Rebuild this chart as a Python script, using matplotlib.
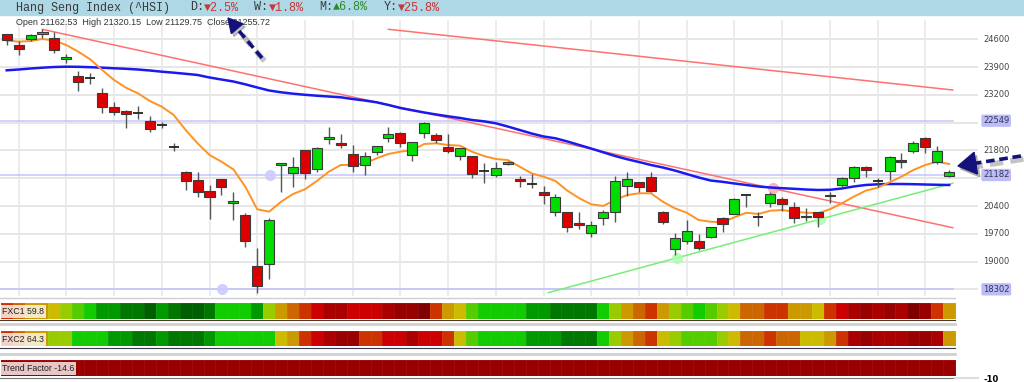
import numpy as np
import matplotlib
matplotlib.use("Agg")
import matplotlib.pyplot as plt
from matplotlib.colors import ListedColormap, BoundaryNorm
from matplotlib.patches import Rectangle, Polygon
from matplotlib.transforms import blended_transform_factory

W, H = 1024, 382

# ---------------- data ----------------
opens = [24726, 24456, 24615, 24726, 24625, 24111, 23676, 23620, 23255, 22887,
         22801, 22752, 22542, 22442, 21896, 21265, 21056, 20786, 21073, 20469,
         20174, 18889, 18932, 21426, 21225, 21811, 21325, 22089, 21980, 21718,
         21426, 21754, 22106, 22247, 21686, 22232, 22189, 21887, 21668, 21660,
         21283, 21182, 21459, 21081, 20948, 20746, 20242, 20242, 19965, 19713,
         20106, 20242, 20912, 20998, 21131, 20242, 19310, 19519, 19519, 19612,
         20091, 20199, 20678, 20131, 20484, 20577, 20383, 20120, 20242, 20645,
         20930, 21099, 21391, 21032, 21283, 21552, 21786, 22106, 21517, 21162.53]
highs = [24740, 24565, 24733, 24852, 24791, 24222, 23809, 23744, 23366, 23028,
         22810, 22920, 22676, 22524, 21995, 21290, 21265, 20930, 21088, 20746,
         20217, 19350, 20091, 21480, 21643, 21815, 21895, 22398, 22215, 21930,
         21769, 21918, 22383, 22255, 22010, 22524, 22232, 22215, 21860, 21665,
         21491, 21517, 21542, 21164, 21199, 20912, 20703, 20250, 20242, 20031,
         20300, 21164, 21265, 21005, 21265, 20283, 19713, 20048, 19696, 19870,
         20131, 20590, 20703, 20257, 20761, 20635, 20509, 20343, 20250, 20761,
         21139, 21400, 21400, 21114, 21668, 21728, 22046, 22131, 21920, 21320.15]
lows = [24456, 24212, 24565, 24625, 24247, 23995, 23305, 23474, 22751, 22693,
        22373, 22585, 22272, 22373, 21794, 20804, 20620, 20066, 20678, 20048,
        19376, 18217, 18554, 20761, 20887, 21073, 21250, 21955, 21869, 21250,
        21182, 21693, 22006, 21895, 21534, 22106, 21980, 21743, 21560, 21114,
        20973, 21124, 21434, 20872, 20847, 20444, 20149, 19753, 19821, 19628,
        19922, 20005, 20653, 20746, 20746, 19940, 19166, 19444, 19292, 19587,
        19738, 20190, 20368, 19904, 20383, 20283, 19965, 20031, 19864, 20469,
        20887, 20998, 21139, 20887, 21056, 21366, 21728, 21728, 21459, 21129.75]
closes = [24582, 24356, 24708, 24776, 24330, 24162, 23532, 23618, 22902, 22761,
          22711, 22750, 22340, 22440, 21894, 21038, 20761, 20620, 20887, 20527,
          19519, 18393, 20048, 21476, 21391, 21225, 21869, 22147, 21930, 21408,
          21660, 21912, 22215, 21995, 22006, 22484, 22063, 21794, 21854, 21199,
          21281, 21350, 21509, 21023, 20946, 20678, 20620, 19864, 19922, 19922,
          20242, 21038, 21073, 20872, 20786, 19990, 19602, 19779, 19350, 19864,
          19948, 20577, 20676, 20129, 20703, 20459, 20106, 20140, 20116, 20670,
          21099, 21391, 21308, 21030, 21628, 21517, 21980, 21880, 21786, 21255.72]

ma_fast = [24570, 24540, 24557, 24608, 24565, 24456, 24288, 24096, 23827, 23575,
           23381, 23240, 23046, 22902, 22693, 22315, 21980, 21686, 21517, 21325,
           20887, 20318, 20257, 20509, 20703, 20822, 21031, 21265, 21434, 21434,
           21476, 21602, 21711, 21769, 21811, 21963, 21980, 21937, 21920, 21769,
           21660, 21585, 21559, 21391, 21225, 21139, 21031, 20786, 20595, 20443,
           20401, 20552, 20678, 20721, 20721, 20509, 20343, 20232, 20048, 20005,
           19990, 20116, 20232, 20199, 20282, 20300, 20257, 20232, 20217, 20318,
           20469, 20635, 20786, 20862, 20998, 21139, 21308, 21434, 21517, 21459]
ma_slow = [23819, 23839, 23864, 23885, 23902, 23910, 23907, 23897, 23885, 23870,
           23857, 23839, 23814, 23784, 23759, 23731, 23701, 23638, 23587, 23537,
           23466, 23386, 23310, 23265, 23230, 23202, 23179, 23159, 23139, 23096,
           23058, 23013, 22945, 22869, 22812, 22756, 22706, 22660, 22618, 22567,
           22534, 22484, 22403, 22315, 22227, 22152, 22106, 22026, 21937, 21847,
           21754, 21660, 21580, 21509, 21434, 21371, 21295, 21207, 21119, 21043,
           21010, 20968, 20930, 20892, 20867, 20849, 20834, 20816, 20804, 20809,
           20842, 20892, 20930, 20947, 20955, 20955, 20950, 20942, 20935, 20930]

# trend lines: (x0, x1), (y0, y1) in bar index / price
red_line_a = ([3, 79.3], [24850, 19854])
red_line_b = ([32, 79.3], [24852, 23323])
green_line = ([45.4, 79.3], [18217, 20973])
level_lines = [22549, 21182, 18302]
level_dots = [(22.1, 21182), (18.05, 18302)]
green_dots = [(56.2, 19083), (68.2, 20068)]
pink_dots = [(64.2, 20856)]

axis_ticks = [24600, 23900, 23200, 21800, 20400, 19700, 19000]
grid_levels = [24600, 23900, 23200, 22500, 21800, 21100, 20400, 19700, 19000, 18300]

# FXC heat strips: colour level per bar (0 = deep red ... 13 = deep green)
strip_colors = ['#800000', '#990000', '#aa0000', '#cc0000', '#cc3300', '#cc6600', '#cc9900',
                '#ccbb00', '#99cc00', '#55cc00', '#11cc00', '#009900', '#007700', '#005f00']
fxc1 = [4, 5, 6, 6, 7, 8, 9, 10, 11, 11, 12, 12, 13, 11, 12, 13, 13, 12, 10, 10,
        10, 11, 8, 6, 5, 4, 3, 2, 2, 3, 3, 3, 2, 1, 1, 0, 4, 6, 7, 9,
        10, 10, 10, 10, 11, 11, 12, 12, 12, 12, 10, 8, 6, 5, 4, 6, 8, 9, 10, 9,
        8, 7, 5, 5, 4, 4, 6, 6, 7, 4, 3, 2, 1, 2, 1, 2, 0, 1, 4, 6]
fxc2 = [4, 5, 6, 6, 8, 8, 10, 10, 10, 11, 11, 12, 12, 11, 12, 12, 12, 11, 10, 10,
        10, 10, 10, 7, 6, 4, 3, 2, 1, 1, 4, 4, 3, 3, 2, 3, 3, 4, 7, 9,
        10, 10, 10, 10, 11, 11, 11, 12, 12, 12, 10, 8, 6, 5, 4, 7, 8, 9, 9, 9,
        8, 7, 5, 5, 4, 5, 5, 7, 7, 6, 4, 2, 1, 2, 2, 2, 1, 1, 2, 6]
trend_factor = [1] * 80

labels = {"fxc1": "FXC1 59.8", "fxc2": "FXC2 64.3", "tf": "Trend Factor -14.6"}
info = "Open 21162.53  High 21320.15  Low 21129.75  Close 21255.72"

# ---------------- layout helpers ----------------
def px_rect(x0, y0, x1, y1):
    return [x0 / W, 1 - y1 / H, (x1 - x0) / W, (y1 - y0) / H]

X_LEFT = -6.7 / 11.93
X_RIGHT = (978 - 6.7) / 11.93

fig = plt.figure(figsize=(W / 100, H / 100), dpi=100)
fig.patch.set_facecolor('white')

# ---------------- main price panel ----------------
ax = fig.add_axes(px_rect(0, 20, 978, 296))
ax.set_xlim(X_LEFT, X_RIGHT)
ax.set_ylim(24600 - (296 - 39.3) * 25.19, 24600 + (39.3 - 20) * 25.19)
ax.axis('off')

for g in grid_levels:
    ax.axhline(g, color='#e6e6e6', lw=1.4, zorder=0)
for gx in range(1, 80, 4):
    ax.axvline(gx, color='#e8e8e8', lw=1.2, zorder=0)

xe = [X_LEFT, 79.3]
for lv in level_lines:
    ax.plot(xe, [lv, lv], color='#b4b4ff', lw=1.2, alpha=0.7, zorder=1)
for dx, dy in level_dots:
    ax.plot(dx, dy, 'o', ms=7, color='#ccccff', alpha=0.9, zorder=1)

ax.plot(*red_line_a, color='#ff7070', lw=1.1, zorder=2)
ax.plot(*red_line_b, color='#ff7070', lw=1.1, zorder=2)
ax.plot(*green_line, color='#77ee77', lw=1.1, zorder=2)
for dx, dy in green_dots:
    ax.plot(dx, dy, 'o', ms=7, color='#aaffaa', alpha=0.8, zorder=2)
for dx, dy in pink_dots:
    ax.plot(dx, dy, 'o', ms=7, color='#ffb0b0', alpha=0.9, zorder=2)

idx = np.arange(len(closes))
ax.plot(idx, ma_slow, color='#1a1aee', lw=1.8, zorder=3)
ax.plot(idx, ma_fast, color='#ff9222', lw=1.4, zorder=3)

o = np.array(opens); c = np.array(closes)
ax.vlines(idx, lows, highs, color='#555555', lw=1.0, zorder=4)
doji = np.abs(c - o) < 6
up = (c >= o) & ~doji
dn = (c < o) & ~doji
ax.bar(idx[up], (c - o)[up], bottom=o[up], width=0.84, color='#00dd00',
       edgecolor='#3a3a3a', lw=0.8, zorder=5)
ax.bar(idx[dn], (o - c)[dn], bottom=c[dn], width=0.84, color='#dd0000',
       edgecolor='#3a3a3a', lw=0.8, zorder=5)
ax.hlines(o[doji], idx[doji] - 0.42, idx[doji] + 0.42, color='#222222', lw=1.3, zorder=5)

# ---------------- heat strips ----------------
cmap = ListedColormap(strip_colors)
norm = BoundaryNorm(np.arange(-0.5, len(strip_colors)), cmap.N)
edges = np.arange(len(fxc1) + 1) - 0.5
for vals, (y0, y1), key in [(fxc1, (303, 318.5), "fxc1"),
                            (fxc2, (331, 346), "fxc2"),
                            (trend_factor, (360, 375.5), "tf")]:
    sax = fig.add_axes(px_rect(0, y0, 978, y1))
    sax.set_xlim(X_LEFT, X_RIGHT)
    sax.set_ylim(0, 1)
    sax.axis('off')
    sax.pcolormesh(edges, [0, 1], np.array([vals]), cmap=cmap, norm=norm,
                   edgecolor=(1, 1, 1, 0.06), lw=0.5)
    sax.text(-0.4, 0.45, labels[key], fontsize=6.3, family='Liberation Sans',
             color='#222222', va='center', ha='left',
             bbox=dict(boxstyle='square,pad=0.25', fc='white', ec='none', alpha=0.78))

# ---------------- overlay (header, axis labels, arrows) ----------------
ov = fig.add_axes([0, 0, 1, 1], zorder=10)
ov.set_xlim(0, W)
ov.set_ylim(H, 0)
ov.axis('off')
ov.patch.set_alpha(0)

ov.add_patch(Rectangle((0, 0), W, 15, color='#aed8e6', zorder=1))
mono = ['Liberation Mono', 'DejaVu Sans Mono']
cw = 7.08
head_parts = [("Hang Seng Index (^HSI)", 16, '#3a3a3a'),
              ("D:", 190, '#3a3a3a'), ("▼2.5%", 190 + 2 * cw, '#cc3333'),
              ("W:", 254.5, '#3a3a3a'), ("▼1.8%", 254.5 + 2 * cw, '#cc3333'),
              ("M:", 319, '#3a3a3a'), ("▲6.8%", 319 + 2 * cw, '#2a8a2a'),
              ("Y:", 383.5, '#3a3a3a'), ("▼25.8%", 383.5 + 2 * cw, '#cc3333')]
for s, x, col in head_parts:
    ov.text(x, 7.5, s, family=mono, fontsize=8.5, color=col, va='center', ha='left', zorder=2)

ov.text(16, 22.5, info, family='Liberation Sans', fontsize=6.5, color='#333333',
        va='center', ha='left', zorder=2)

# separators under panels
for yy, col, lw in [(297.5, '#cfcfcf', 1.0), (320.2, '#4a3a2a', 0.8), (323.5, '#d0d0d0', 2.0),
                    (348.3, '#3a3a4a', 0.8), (353.5, '#d0d0d0', 2.0), (377.5, '#777777', 0.8)]:
    ov.plot([0, 955], [yy, yy], color=col, lw=lw, zorder=2)
ov.plot([955, 978], [377.5, 377.5], color='#dddddd', lw=1.5, zorder=2)
ov.text(983, 379.5, "-10", fontsize=6, fontweight='bold', color='black', va='center', zorder=2)

# right axis labels
tr = blended_transform_factory(ov.transData, ax.transData)
for t in axis_ticks:
    ov.text(983, t, str(t), transform=tr, fontsize=6, color='#444444', va='center', ha='left')
for t in level_lines:
    ov.text(983, t, str(t), transform=tr, fontsize=6, color='#33335a', va='center', ha='left',
            bbox=dict(boxstyle='round,pad=0.2', fc='#a0a0f4', ec='none', alpha=0.7))

# dashed pointer arrows
def pointer(tail, tip, head_len, head_w):
    tail = np.array(tail, float); tip = np.array(tip, float)
    u = (tip - tail) / np.hypot(*(tip - tail))
    n = np.array([-u[1], u[0]])
    base = tip - u * head_len
    for off, col, alpha, lw in [((2.5, 3), '#555555', 0.35, 4.0), ((0, 0), '#12127a', 1.0, 2.6)]:
        off = np.array(off)
        ov.plot([tail[0] + off[0], base[0] + off[0]], [tail[1] + off[1], base[1] + off[1]],
                color=col, alpha=alpha, lw=lw, dashes=(2.4, 1.3), solid_capstyle='butt', zorder=3)
        ov.add_patch(Polygon([tip + off, base + n * head_w / 2 + off, base - n * head_w / 2 + off],
                             closed=True, color=col, alpha=alpha, zorder=3))

pointer((262, 58), (228, 18), 14, 15)
pointer((1021, 156), (958, 166), 18, 22)

fig.savefig('out.png', dpi=100)
